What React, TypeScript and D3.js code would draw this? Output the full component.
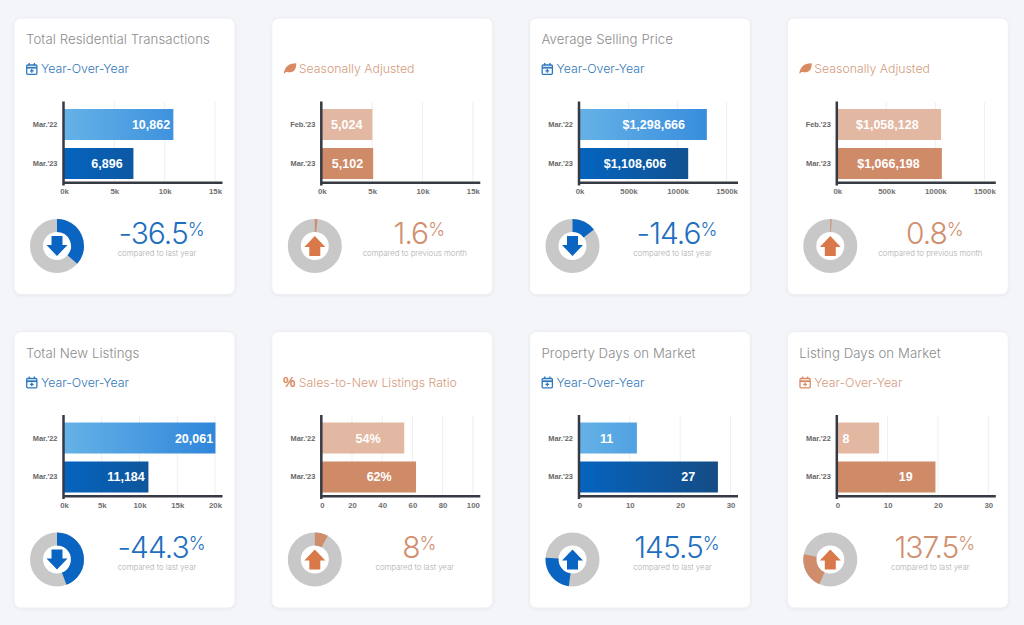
import React, { useEffect, useRef } from 'react';
import * as d3 from 'd3';

// one entry per card, left to right, top row first
const titles = [
  'Total Residential Transactions', '', 'Average Selling Price', '',
  'Total New Listings', '', 'Property Days on Market', 'Listing Days on Market',
];
const subtitles = [
  'Year-Over-Year', 'Seasonally Adjusted', 'Year-Over-Year', 'Seasonally Adjusted',
  'Year-Over-Year', 'Sales-to-New Listings Ratio', 'Year-Over-Year', 'Year-Over-Year',
];
const icons = ['calendar', 'leaf', 'calendar', 'leaf', 'calendar', 'percent', 'calendar', 'calendar'];
const themes = ['blue', 'orange', 'blue', 'orange', 'blue', 'orange', 'blue', 'orange'];

const categories = [
  ["Mar.'22", "Mar.'23"], ["Feb.'23", "Mar.'23"], ["Mar.'22", "Mar.'23"], ["Feb.'23", "Mar.'23"],
  ["Mar.'22", "Mar.'23"], ["Mar.'22", "Mar.'23"], ["Mar.'22", "Mar.'23"], ["Mar.'22", "Mar.'23"],
];
const barValues = [
  [10862, 6896], [5024, 5102], [1298666, 1108606], [1058128, 1066198],
  [20061, 11184], [54.6, 62.4], [11.4, 27.5], [8.3, 19.5],
];
const barLabels = [
  ['10,862', '6,896'], ['5,024', '5,102'], ['$1,298,666', '$1,108,606'], ['$1,058,128', '$1,066,198'],
  ['20,061', '11,184'], ['54%', '62%'], ['11', '27'], ['8', '19'],
];
// where each value label is centred, in axis units
const labelAnchors = [
  [8642, 4272], [2473, 2553], [757000, 566000], [510000, 522000],
  [17218, 8212], [30.6, 38], [5.4, 21.6], [1.7, 13.6],
];
const axisTicks = [
  [0, 5000, 10000, 15000], [0, 5000, 10000, 15000], [0, 500000, 1000000, 1500000], [0, 500000, 1000000, 1500000],
  [0, 5000, 10000, 15000, 20000], [0, 20, 40, 60, 80, 100], [0, 10, 20, 30], [0, 10, 20, 30],
];
const axisMax = [15000, 15000, 1540000, 1540000, 20000, 100, 30, 30];
const kTicks = [true, true, true, true, true, false, false, false];

const changeText = ['-36.5', '1.6', '-14.6', '0.8', '-44.3', '8', '145.5', '137.5'];
const changeNotes = [
  'compared to last year', 'compared to previous month', 'compared to last year', 'compared to previous month',
  'compared to last year', 'compared to last year', 'compared to last year', 'compared to last year',
];
// share of the ring, start and end, read clockwise from the top
const ringFrom = [0, 0, 0, 0, 0, 0, 0.522, 0.567];
const ringTo = [0.365, 0.016, 0.146, 0.008, 0.443, 0.08, 0.761, 0.781];
const arrowDown = [true, false, true, false, true, false, false, false];

const cardX = [14, 271.8, 529.5, 787.3];
const cardY = [18, 331.5];
const cardW = 221;
const cardH = 276.5;

const palette: Record<string, any> = {
  blue: { sub: '#3277b8', big: '#1f6fc0', ring: '#0a64c1', arrow: '#0a64c1' },
  orange: { sub: '#d49c80', big: '#d08f6e', ring: '#d08d6c', arrow: '#d9794a' },
};

const bodyFont = 'Inter, "Open Sans", sans-serif';
const chartFont = '"Liberation Sans", Arial, sans-serif';

function SubIcon({ kind, color }: { kind: string; color: string }) {
  if (kind === 'calendar') {
    return (
      <g fill="none" stroke={color} strokeWidth={1.3}>
        <rect x={0.7} y={2.5} width={10.2} height={9.3} rx={1} />
        <path d="M0.7 5.2H10.9" strokeWidth={1.8} />
        <path d="M3.2 0.6V3M8.4 0.6V3" />
        <path d="M5.8 6.4V10.2M3.9 8.3H7.7" />
      </g>
    );
  }
  if (kind === 'leaf') {
    return (
      <path
        d="M0 10.5C1.5 4.5 4 1 12.5 0.8C12.5 7 10 10.2 4.5 9.8C3.5 9.8 2.6 9.5 2 9.6L0.6 11.2Z"
        fill={color}
      />
    );
  }
  return (
    <text x={-0.8} y={11} fontFamily={chartFont} fontWeight={700} fontSize={14} fill={color}>%</text>
  );
}

function Card({ i }: { i: number }) {
  const axisRef = useRef<SVGGElement>(null);
  const left = cardX[i % 4];
  const top = cardY[Math.floor(i / 4)];
  const theme = palette[themes[i]];
  const ticks = axisTicks[i];

  const x = d3.scaleLinear().domain([0, axisMax[i]]).range([50, 201]);
  const y = d3.scaleBand().domain(categories[i]).range([91, 161]).paddingInner(0.205);
  const rows = categories[i].map((c, k) => ({
    c,
    value: barValues[i][k],
    label: barLabels[i][k],
    at: labelAnchors[i][k],
  }));

  const ring = d3.arc<any>().innerRadius(14).outerRadius(27);
  const tau = Math.PI * 2;

  useEffect(() => {
    if (!axisRef.current) return;
    const g = d3.select(axisRef.current);
    g.selectAll('*').remove();
    g.call(
      d3.axisBottom(x)
        .tickValues(ticks)
        .tickSize(0)
        .tickPadding(5.5)
        .tickFormat((d: any) => (kTicks[i] ? `${d / 1000}k` : `${d}`))
    );
    g.select('.domain').remove();
    g.selectAll('text')
      .attr('font-family', chartFont)
      .attr('font-size', 7.8)
      .attr('font-weight', 700)
      .attr('fill', '#707070');
  }, [i]);

  const gradId = (k: number) => `bar-${i}-${k}`;
  const gradFrom = k => (k === 0 ? '#66b2e7' : '#0564bf');
  const gradTo = k => (k === 0 ? '#2f86da' : '#164a80');

  return (
    <g transform={`translate(${left},${top})`}>
      <rect width={cardW} height={cardH} rx={7} fill="#fff" stroke="#eceef1" filter="url(#cardShadow)" />
      <text x={12} y={26} fontFamily={bodyFont} fontWeight={300} fontSize={13.2} letterSpacing={0.08} fill="#8c8c8c">
        {titles[i]}
      </text>
      <g transform="translate(12,44.5)">
        <SubIcon kind={icons[i]} color={themes[i] === 'blue' ? '#2f78bd' : '#d98a63'} />
      </g>
      <text x={27} y={55} fontFamily={bodyFont} fontWeight={300} fontSize={12.3} fill={theme.sub}>
        {subtitles[i]}
      </text>

      <defs>
        {[0, 1].map(k => (
          <linearGradient key={k} id={gradId(k)} gradientUnits="userSpaceOnUse" x1={x.range()[0]} x2={x.range()[1]} y1={0} y2={0}>
            <stop offset="0%" stopColor={gradFrom(k)} />
            <stop offset="100%" stopColor={gradTo(k)} />
          </linearGradient>
        ))}
      </defs>

      {ticks.slice(1).map(t => (
        <line key={t} x1={x(t)} x2={x(t)} y1={84} y2={163} stroke="#efefef" strokeWidth={1} />
      ))}
      {rows.map((r, k) => (
        <g key={r.c}>
          <rect
            x={x(0)}
            y={y(r.c)}
            width={x(r.value) - x(0)}
            height={y.bandwidth()}
            fill={themes[i] === 'blue' ? `url(#${gradId(k)})` : k === 0 ? '#e2b8a2' : '#cf8a68'}
          />
          <text
            x={x(r.at)}
            y={(y(r.c) as number) + y.bandwidth() / 2 + 4.5}
            textAnchor="middle"
            fontFamily={chartFont}
            fontWeight={700}
            fontSize={12.5}
            fill="#fff"
          >
            {r.label}
          </text>
          <text
            x={43.5}
            y={(y(r.c) as number) + y.bandwidth() / 2 + 2.5}
            textAnchor="end"
            fontFamily={chartFont}
            fontWeight={700}
            fontSize={7.4}
            fill="#666"
          >
            {r.c}
          </text>
        </g>
      ))}
      <path d="M49.5 83.5V167.5M48.3 164.8H208.5" fill="none" stroke="#363a42" strokeWidth={2.5} />
      <g ref={axisRef} transform="translate(0,165)" />

      <g transform="translate(43,228)">
        <circle r={20.5} fill="none" stroke="#c8c8c8" strokeWidth={13} />
        <path
          d={ring({ startAngle: ringFrom[i] * tau, endAngle: ringTo[i] * tau }) as string}
          fill={theme.ring}
        />
        <polygon
          points="-5.5,-10 5.5,-10 5.5,-1 10.5,-1 0,10 -10.5,-1 -5.5,-1"
          fill={theme.arrow}
          transform={arrowDown[i] ? undefined : 'scale(1,-1)'}
        />
      </g>

      <text x={147} y={226} textAnchor="middle" fontFamily={bodyFont} fontWeight={300} fontSize={30} letterSpacing={-1} fill={theme.big}>
        {changeText[i]}
        <tspan fontSize={18} dy={-8}>%</tspan>
      </text>
      <text x={143} y={238} textAnchor="middle" fontFamily={bodyFont} fontWeight={300} fontSize={7.8} fill="#adadad">
        {changeNotes[i]}
      </text>
    </g>
  );
}

export default function App() {
  return (
    <div style={{ position: 'fixed', inset: 0, overflow: 'hidden', background: '#f3f5f8' }}>
      <svg width={1024} height={625} style={{ display: 'block' }}>
        <defs>
          <filter id="cardShadow" x="-5%" y="-5%" width="110%" height="110%">
            <feDropShadow dx={0} dy={1} stdDeviation={1.5} floodColor="#000" floodOpacity={0.05} />
          </filter>
        </defs>
        {titles.map((_, i) => (
          <Card key={i} i={i} />
        ))}
      </svg>
    </div>
  );
}
